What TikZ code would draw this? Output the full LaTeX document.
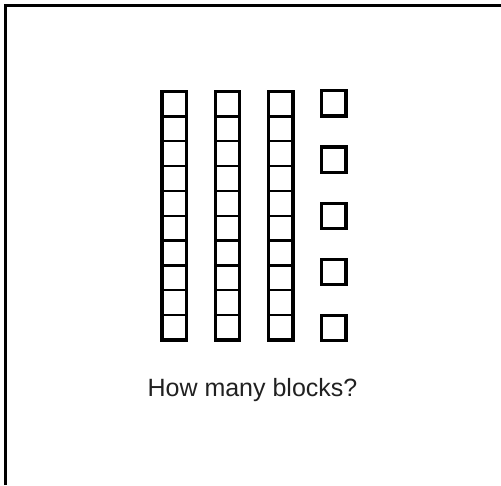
\documentclass[tikz,border=0pt]{standalone}
\usepackage{fontspec}
\setmainfont{Liberation Sans}
\begin{document}
\begin{tikzpicture}[x=1pt,y=-1pt,
  frameline/.style={line width=3pt},
  rodout/.style={line width=3.3pt},
  rodin/.style={line width=2.3pt},
  unitbox/.style={line width=3.3pt}]
\useasboundingbox (0,0) rectangle (501,485);
\fill[white] (0,0) rectangle (501,485);
% partial frame
\draw[frameline] (5,485) -- (5,5.5) -- (501,5.5);
% rods of ten
\foreach \x in {162,215.3,268.6}{
  \foreach \k in {1,...,9}{
    \draw[rodin] (\x,91.5+\k*24.85) -- (\x+24.5,91.5+\k*24.85);
  }
  \draw[rodout] (\x,91.5) rectangle (\x+24.5,340);
}
% unit blocks
\foreach \k in {0,...,4}{
  \draw[unitbox] (321.5,90.8+\k*56.2) rectangle (346,116+\k*56.2);
}
\node[font=\fontsize{25}{30}\selectfont, text=black!87, anchor=base] (q) at (252.5,396) {How many blocks?};
\end{tikzpicture}
\end{document}
